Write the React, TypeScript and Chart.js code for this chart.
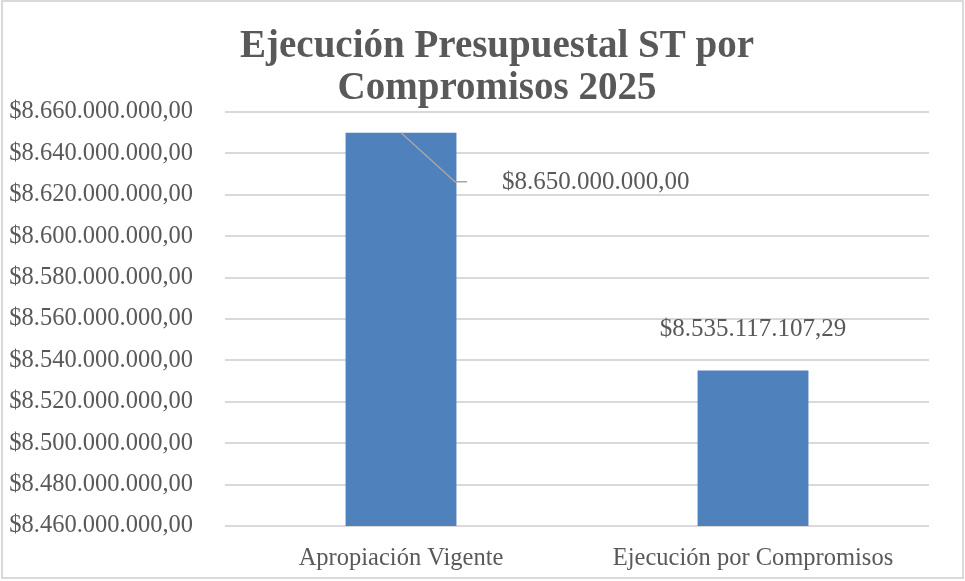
import React, { useEffect, useRef } from "react";
import { Chart, registerables } from "chart.js";

Chart.register(...registerables);

const categories = ["Apropiación Vigente", "Ejecución por Compromisos"];
const values = [8650000000, 8535117107.29];
const titleLines = ["Ejecución Presupuestal ST por", "Compromisos 2025"];
const yMin = 8460000000;
const yMax = 8660000000;
const yStep = 20000000;

const FONT = "'Liberation Serif', 'Times New Roman', serif";
const TEXT = "#595959";

function fmt(v: number): string {
  const fixed = v.toFixed(2);
  const [intPart, dec] = fixed.split(".");
  const withDots = intPart.replace(/\B(?=(\d{3})+(?!\d))/g, ".");
  return "$" + withDots + "," + dec;
}

const decorPlugin = {
  id: "decor",
  beforeDraw(chart: any) {
    const ctx = chart.ctx;
    ctx.save();
    ctx.fillStyle = "#ffffff";
    ctx.fillRect(0, 0, chart.width, chart.height);
    ctx.strokeStyle = "#D9D9D9";
    ctx.lineWidth = 2;
    ctx.strokeRect(2, 1, chart.width - 4, chart.height - 4);
    ctx.restore();
  },
  afterDraw(chart: any) {
    const ctx = chart.ctx;
    ctx.save();
    ctx.fillStyle = TEXT;
    ctx.font = `bold 39px ${FONT}`;
    ctx.textAlign = "center";
    ctx.textBaseline = "middle";
    const cx = 497;
    ctx.fillText(titleLines[0], cx, 47);
    ctx.fillText(titleLines[1], cx, 89);
    ctx.restore();
  },
  afterDatasetsDraw(chart: any) {
    const ctx = chart.ctx;
    const meta = chart.getDatasetMeta(0);
    ctx.save();
    ctx.font = `25px ${FONT}`;
    ctx.fillStyle = TEXT;
    ctx.textBaseline = "middle";
    meta.data.forEach((bar: any, i: number) => {
      const v = values[i];
      if (i === 0) {
        ctx.strokeStyle = "#A6A6A6";
        ctx.lineWidth = 1.5;
        ctx.beginPath();
        ctx.moveTo(bar.x, bar.y);
        ctx.lineTo(bar.x + 54, bar.y + 49);
        ctx.lineTo(bar.x + 66, bar.y + 49);
        ctx.stroke();
        ctx.textAlign = "left";
        ctx.fillText(fmt(v), bar.x + 101, bar.y + 50);
      } else {
        ctx.textAlign = "center";
        ctx.fillText(fmt(v), bar.x, bar.y - 41);
      }
    });
    ctx.restore();
  },
};

export default function App() {
  const ref = useRef<HTMLCanvasElement>(null);
  useEffect(() => {
    document.body.style.margin = "0";
    const canvas = ref.current!;
    const chart = new Chart(canvas, {
      type: "bar",
      data: {
        labels: categories,
        datasets: [
          {
            data: values,
            backgroundColor: "#4F81BD",
            borderWidth: 0,
            categoryPercentage: 1,
            barPercentage: 0.315,
          },
        ],
      },
      options: {
        responsive: false,
        animation: false,
        layout: { padding: { top: 112, right: 36, bottom: 0, left: 0 } },
        plugins: {
          legend: { display: false },
          title: { display: false },
          tooltip: { enabled: false },
        },
        scales: {
          x: {
            grid: { display: false, drawTicks: false },
            border: { display: false },
            ticks: {
              color: TEXT,
              font: { family: FONT, size: 24.5 },
              padding: 18,
              maxRotation: 0,
            },
            afterFit(scale: any) {
              scale.height = 55;
            },
          },
          y: {
            min: yMin,
            max: yMax,
            grid: { color: "#D9D9D9", lineWidth: 2, drawTicks: false },
            border: { display: false },
            ticks: {
              stepSize: yStep,
              color: TEXT,
              font: { family: FONT, size: 24.5 },
              padding: 32,
              callback: (v: any) => fmt(Number(v)),
            },
            afterFit(scale: any) {
              scale.width = 225;
            },
          },
        },
      },
      plugins: [decorPlugin],
    });
    return () => chart.destroy();
  }, []);
  return <canvas ref={ref} width={965} height={581} style={{ display: "block" }} />;
}
